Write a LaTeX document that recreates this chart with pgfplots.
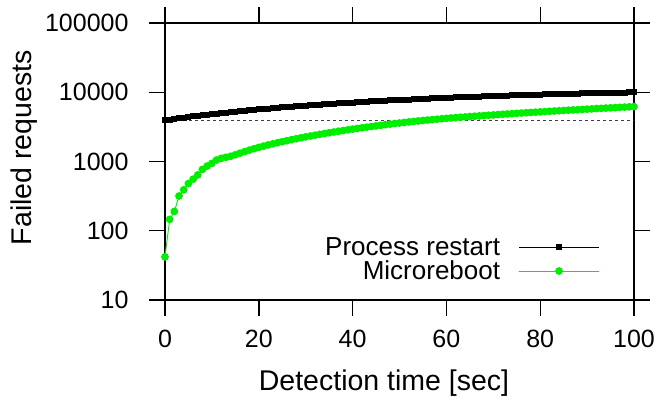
\documentclass[border=0pt]{standalone}
\usepackage{pgfplots}
\pgfplotsset{compat=1.18}
\usepackage{fontspec}
\setmainfont{Liberation Sans}

\definecolor{mrgreen}{RGB}{0,238,0}

\pgfplotstableread{
x y
0 3950
1 4041
2 4131
3 4221
4 4310
5 4399
6 4487
7 4574
8 4660
9 4746
10 4832
11 4917
12 5001
13 5084
14 5167
15 5249
16 5331
17 5412
18 5492
19 5572
20 5651
21 5730
22 5808
23 5885
24 5961
25 6038
26 6113
27 6188
28 6262
29 6335
30 6408
31 6480
32 6552
33 6623
34 6694
35 6763
36 6832
37 6901
38 6969
39 7036
40 7103
41 7169
42 7234
43 7299
44 7363
45 7427
46 7490
47 7552
48 7614
49 7675
50 7735
51 7795
52 7854
53 7912
54 7970
55 8028
56 8084
57 8140
58 8196
59 8251
60 8305
61 8358
62 8411
63 8464
64 8515
65 8566
66 8617
67 8667
68 8716
69 8764
70 8812
71 8860
72 8906
73 8952
74 8998
75 9043
76 9087
77 9130
78 9173
79 9216
80 9257
81 9298
82 9339
83 9379
84 9418
85 9456
86 9494
87 9532
88 9568
89 9604
90 9640
91 9675
92 9709
93 9742
94 9775
95 9808
96 9839
97 9871
98 9901
99 9931
100 9960
}\restart

\pgfplotstableread{
x y
0 42
1 146
2 190
3 318
4 390
5 480
6 555
7 640
8 770
9 860
10 940
11 1050
12 1110
13 1150
14 1190
15 1250
16 1320
17 1390
18 1460
19 1530
20 1600
21 1667
22 1733
23 1800
24 1867
25 1933
26 2000
27 2067
28 2133
29 2200
30 2267
31 2333
32 2400
33 2467
34 2533
35 2600
36 2667
37 2733
38 2800
39 2867
40 2933
41 3000
42 3067
43 3133
44 3200
45 3267
46 3333
47 3400
48 3467
49 3533
50 3600
51 3664
52 3727
53 3789
54 3850
55 3910
56 3969
57 4027
58 4084
59 4140
60 4195
61 4249
62 4302
63 4354
64 4405
65 4455
66 4505
67 4555
68 4605
69 4655
70 4705
71 4755
72 4805
73 4855
74 4905
75 4955
76 5005
77 5055
78 5105
79 5155
80 5205
81 5255
82 5305
83 5355
84 5405
85 5455
86 5505
87 5555
88 5605
89 5655
90 5705
91 5755
92 5805
93 5855
94 5905
95 5955
96 6005
97 6055
98 6105
99 6155
100 6205
}\microreboot

\begin{document}
\begin{tikzpicture}
\begin{axis}[
  at={(165bp,101bp)}, anchor=south west,
  scale only axis, width=469bp, height=277bp,
  ymode=log, log basis y=10,
  xmin=0, xmax=100, ymin=10, ymax=100000,
  xtick={0,20,...,100},
  ytick={10,100,1000,10000,100000},
  yticklabels={10,100,1000,10000,100000},
  log ticks with fixed point,
  /pgf/number format/assume math mode=true,
  tick align=outside,
  major tick length=16bp, minor tick length=8bp,
  axis line style={line width=1.4bp},
  every tick/.style={black, line width=1.4bp},
  minor tick style={line width=1bp},
  ticklabel style={font=\fontsize{25bp}{30bp}\selectfont},
  yticklabel style={xshift=-17bp},
  xticklabel style={yshift=-11bp},
  clip=false,
  xlabel={Detection time [sec]},
  ylabel={Failed requests},
  label style={font=\fontsize{28.5bp}{34bp}\selectfont},
  xlabel style={at={(rel axis cs:0.467,-0.30)}, anchor=center},
  ylabel style={at={(rel axis cs:-0.3,0.55)}, anchor=center},
  legend style={draw=none, fill=none, at={(rel axis cs:0.927,0.06)}, anchor=south east,
    font=\fontsize{26bp}{30bp}\selectfont, row sep=0bp, inner sep=0bp},
  legend cell align=right,
  legend plot pos=right,
  legend image code/.code={%
    \path[draw=none, fill=none] (0bp,-1bp) rectangle (1bp,1bp);
    \draw[mark repeat=2,mark phase=2,#1] plot coordinates {(17bp,0bp) (57bp,0bp) (97bp,0bp)};},
]
\addplot[black!75, line width=0.7bp, dash pattern=on 2.5bp off 3.5bp, forget plot] coordinates {(0,3950) (100,3950)};
\addplot[black, line width=1bp, mark=square*, mark size=2.5bp] table {\restart};
\addlegendentry{Process restart}
\addplot[mrgreen, line width=0.9bp, mark=*, mark size=3.4bp] table {\microreboot};
\addlegendentry{Microreboot}
\end{axis}
\pgfresetboundingbox
\path (0,0) rectangle (660bp,401bp);
\end{tikzpicture}
\end{document}
